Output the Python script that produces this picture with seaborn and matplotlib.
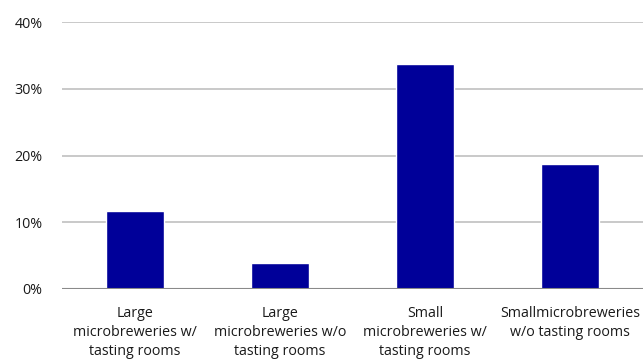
import matplotlib
matplotlib.use("Agg")
import matplotlib.pyplot as plt
import seaborn as sns
import pandas as pd
from matplotlib.ticker import FuncFormatter

# --- data ---
categories = [
    "Large\nmicrobreweries w/\ntasting rooms",
    "Large\nmicrobreweries w/o\ntasting rooms",
    "Small\nmicrobreweries w/\ntasting rooms",
    "Smallmicrobreweries\nw/o tasting rooms",
]
shares = [11.7, 3.9, 33.7, 18.8]
y_ticks = [0, 10, 20, 30, 40]

df = pd.DataFrame({"category": categories, "share": shares})

sns.set_style("white")
plt.rcParams["font.family"] = ["Open Sans", "DejaVu Sans"]

fig = plt.figure(figsize=(6.43, 3.62), dpi=100)
ax = fig.add_axes([62 / 643, (362 - 289) / 362, 581 / 643, 267 / 362])

sns.barplot(data=df, x="category", y="share", color="#000099",
            width=0.4, saturation=1, ax=ax, zorder=3)

ax.set_ylim(0, 40)
ax.set_xlim(-0.5, 3.5)
ax.set_yticks(y_ticks)
ax.yaxis.set_major_formatter(FuncFormatter(lambda v, _: f"{v:.0f}%"))
ax.grid(axis="y", color="#c0c0c0", linewidth=1.2, zorder=0)
ax.axhline(0, color="#8a8a8a", linewidth=1.5, zorder=4)

for s in ax.spines.values():
    s.set_visible(False)
ax.tick_params(axis="both", length=0, labelsize=10.3, colors="#1a1a1a")
ax.tick_params(axis="y", pad=14)
ax.tick_params(axis="x", pad=12)
for lbl in ax.get_xticklabels():
    lbl.set_linespacing(1.38)
ax.set_xlabel("")
ax.set_ylabel("")

fig.savefig("out.png", dpi=100)
